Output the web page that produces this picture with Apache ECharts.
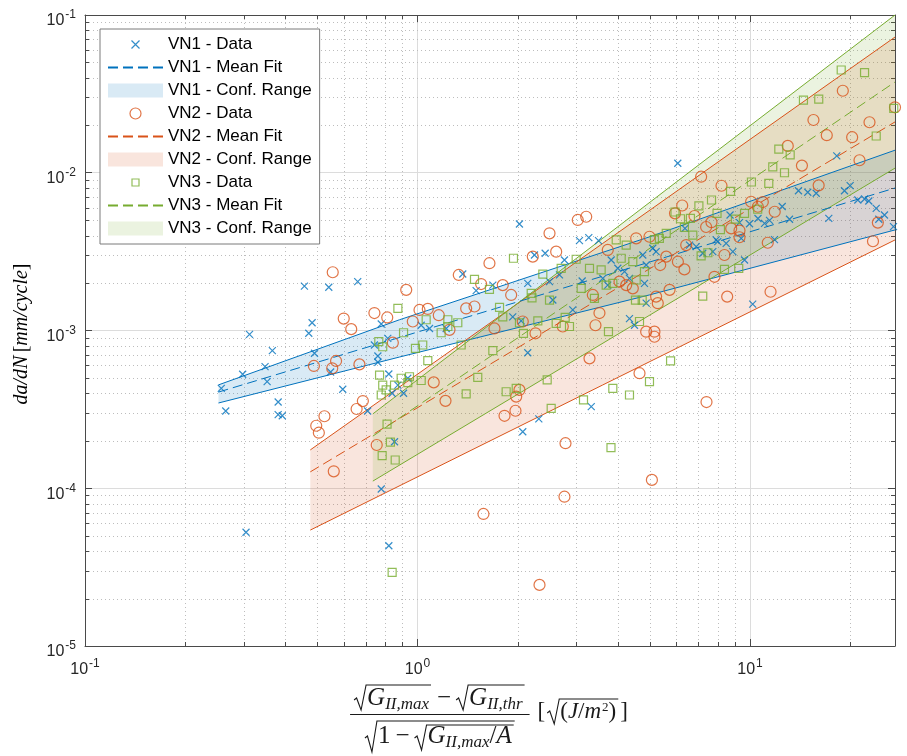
<!DOCTYPE html>
<html><head><meta charset="utf-8">
<script src="https://cdn.jsdelivr.net/npm/echarts@6/dist/echarts.min.js"></script>
<style>html,body{margin:0;padding:0;background:#fff}#c{width:907px;height:756px}</style>
</head><body><div id="c"></div>
<script>
// ---------------- DATA ----------------
const vn1X = [0.257,0.265,0.298,0.3125,0.305,0.348,0.353,0.366,0.381,0.381,0.392,0.457,0.541,0.661,0.482,0.471,0.490,0.548,0.596,0.708,
  0.778,0.814,0.742,0.760,0.760,0.820,0.839,0.908,0.873,0.935,1.087,1.026,1.220,0.778,0.820,0.853,2.073,2.317,3.331,2.026,
  3.070,3.275,3.503,2.248,2.421,2.767,1.368,1.501,1.685,2.146,2.495,2.673,3.128,3.824,4.004,4.194,4.341,4.760,4.873,3.608,
  3.735,2.553,2.931,1.934,2.050,4.341,4.494,2.146,4.816,4.873,6.066,18.24,13.99,14.92,15.82,19.24,20.01,21.10,22.11,22.77,
  23.97,25.38,24.40,27.02,12.50,13.15,17.26,8.71,9.97,10.57,11.06,11.45,11.85,6.375,6.89,7.91,8.48,9.41,8.00,7.73,
  8.88,9.63,6.58,7.21,5.10,5.22,10.19,9.30];
const vn1Y = [4.30e-4,3.09e-4,5.28e-4,9.46e-4,5.26e-5,5.90e-4,4.74e-4,7.45e-4,3.52e-4,2.93e-4,2.88e-4,1.91e-3,1.88e-3,2.04e-3,1.12e-3,9.60e-4,7.17e-4,5.46e-4,4.24e-4,3.09e-4,
  1.10e-3,8.92e-4,8.09e-4,6.89e-4,6.29e-4,5.30e-4,4.00e-4,4.00e-4,4.51e-4,4.98e-4,1.03e-3,1.08e-3,1.03e-3,9.89e-5,4.32e-5,1.97e-4,2.28e-4,2.75e-4,3.29e-4,4.73e-3,
  3.71e-3,3.88e-3,3.71e-3,3.01e-3,3.09e-3,2.80e-3,2.28e-3,1.79e-3,1.94e-3,1.99e-3,2.04e-3,2.25e-3,2.06e-3,2.80e-3,2.48e-3,2.36e-3,2.14e-3,3.01e-3,2.60e-3,2.14e-3,
  1.94e-3,1.56e-3,1.35e-3,1.22e-3,1.15e-3,1.19e-3,1.08e-3,7.23e-4,1.99e-3,1.49e-3,1.148e-2,1.28e-2,7.69e-3,7.52e-3,7.41e-3,7.69e-3,8.28e-3,6.72e-3,6.82e-3,6.62e-3,
  5.95e-3,5.40e-3,5.07e-3,4.55e-3,6.11e-3,5.07e-3,5.14e-3,5.40e-3,4.75e-3,5.13e-3,4.78e-3,4.99e-3,3.77e-3,4.44e-3,3.40e-3,3.75e-3,3.57e-3,3.84e-3,3.66e-3,3.16e-3,
  3.16e-3,2.80e-3,3.48e-3,3.09e-3,3.32e-3,3.16e-3,1.47e-3,4.83e-3];

const vn2X = [0.556,0.925,0.600,0.632,0.742,0.811,0.843,1.014,1.074,0.968,1.159,0.488,0.569,0.554,0.669,1.119,1.214,0.685,0.656,0.525,
  0.496,0.505,0.560,0.754,1.827,1.971,2.787,2.767,1.579,2.328,3.034,3.217,2.495,1.646,1.331,2.222,2.613,1.554,1.805,1.913,
  1.401,1.484,1.704,1.248,2.073,2.264,2.735,3.368,3.526,3.430,3.735,4.547,4.051,4.243,4.442,4.653,3.291,2.026,1.981,4.873,
  7.13,8.21,6.254,5.95,6.81,7.38,7.66,8.78,9.30,9.30,10.08,10.93,10.56,11.87,12.99,14.33,16.09,17.02,15.52,19.02,
  20.29,22.88,21.35,27.3,24.24,23.44,4.986,6.43,11.31,7.82,8.54,11.53,8.38,5.37,5.60,6.07,6.35,5.73,5.22,5.28,
  5.16,5.16,7.40,5.07];
const vn2Y = [2.34e-3,1.81e-3,1.19e-3,1.02e-3,1.29e-3,1.21e-3,8.37e-4,1.35e-3,1.37e-3,1.14e-3,1.25e-3,5.96e-4,6.41e-4,5.76e-4,6.10e-4,4.69e-4,3.58e-4,3.57e-4,3.18e-4,2.86e-4,
  2.49e-4,2.25e-4,1.28e-4,1.88e-4,2.88e-4,3.10e-4,1.93e-4,8.84e-5,6.87e-5,2.44e-5,5.02e-3,5.26e-3,4.13e-3,2.67e-3,2.25e-3,2.94e-3,3.16e-3,1.97e-3,1.94e-3,1.68e-3,
  1.38e-3,1.42e-3,1.03e-3,1.01e-3,1.14e-3,9.60e-4,1.06e-3,1.68e-3,1.29e-3,1.08e-3,3.24e-3,3.84e-3,2.04e-3,1.94e-3,1.85e-3,5.36e-4,6.66e-4,4.20e-4,3.81e-4,9.83e-4,
  9.44e-3,8.27e-3,6.20e-3,5.53e-3,5.32e-3,4.53e-3,4.86e-3,4.44e-3,4.30e-3,3.90e-3,6.55e-3,6.52e-3,6.09e-3,5.66e-3,1.48e-2,1.11e-2,8.32e-3,1.73e-2,2.16e-2,3.31e-2,
  1.68e-2,2.09e-2,1.20e-2,2.60e-2,4.83e-3,3.68e-3,3.93e-3,3.48e-3,3.60e-3,2.19e-3,1.64e-3,1.76e-3,3.01e-3,2.60e-3,2.94e-3,2.73e-3,2.44e-3,1.81e-3,1.64e-3,1.49e-3,
  9.83e-4,9.13e-4,3.52e-4,1.13e-4];

const vn3X = [0.873,0.908,0.765,0.786,0.986,1.037,1.074,1.062,1.178,1.234,1.234,0.769,0.786,0.805,0.778,0.853,0.893,0.935,0.946,1.026,
  0.810,0.829,0.783,0.857,0.839,2.524,3.157,1.944,1.484,1.646,1.765,2.382,2.705,3.001,3.291,3.568,2.198,2.21,2.495,3.107,
  3.406,1.805,2.026,2.301,2.613,2.781,2.865,2.083,1.685,1.353,1.322,1.518,1.401,1.848,1.981,2.455,3.868,4.341,3.753,3.960,
  4.243,4.099,4.442,3.694,3.868,4.547,4.816,4.740,4.525,4.653,4.986,18.81,22.11,14.48,16.10,27.07,23.97,12.21,13.21,11.71,
  12.70,10.10,11.39,8.74,7.66,7.02,7.96,5.95,6.18,6.62,6.35,6.73,8.15,9.04,9.63,10.55,5.60,5.34,5.16,7.13,
  7.47,8.38,9.25,7.21,5.77,3.819];
const vn3Y = [1.38e-3,9.68e-4,8.49e-4,7.89e-4,7.71e-4,8.09e-4,6.45e-4,1.17e-3,9.68e-4,1.06e-3,1.17e-3,5.22e-4,4.51e-4,4.20e-4,3.90e-4,4.51e-4,4.98e-4,4.67e-4,5.09e-4,4.82e-4,
  2.55e-4,1.96e-4,1.61e-4,1.51e-4,2.93e-5,3.21e-4,3.63e-4,2.87e-3,2.11e-3,1.82e-3,1.40e-3,2.28e-3,2.48e-3,2.83e-3,2.48e-3,2.42e-3,1.72e-3,1.61e-3,1.56e-3,1.85e-3,
  1.60e-3,1.22e-3,1.12e-3,1.15e-3,1.11e-3,1.21e-3,1.06e-3,9.60e-4,7.45e-4,8.09e-4,1.12e-3,5.05e-4,3.96e-4,4.09e-4,4.30e-4,4.86e-4,4.30e-4,3.90e-4,9.83e-4,3.75e-3,
  3.48e-3,2.87e-3,2.73e-3,1.94e-3,1.99e-3,2.09e-3,2.36e-3,1.56e-3,1.56e-3,1.14e-3,4.74e-4,4.48e-2,4.31e-2,2.89e-2,2.93e-2,2.56e-2,1.71e-2,1.41e-2,1.30e-2,1.09e-2,
  1.00e-2,8.74e-3,8.57e-3,7.63e-3,6.72e-3,6.17e-3,5.53e-3,5.64e-3,5.11e-3,5.14e-3,4.50e-3,4.02e-3,4.36e-3,5.08e-3,5.53e-3,5.87e-3,4.13e-3,3.84e-3,3.77e-3,2.97e-3,
  3.11e-3,2.44e-3,2.48e-3,1.65e-3,6.41e-4,1.81e-4];

// fits and confidence ranges
const vn1BandX = [0.252, 0.883, 4.98, 27.3];
const vn1Lo    = [3.47e-4, 6.79e-4, 1.68e-3, 4.34e-3];
const vn1Hi    = [4.52e-4, 1.17e-3, 3.92e-3, 1.39e-2];
const vn1FitX  = [0.252, 27.3];
const vn1FitY  = [4.07e-4, 8.0e-3];

const vn2BandX = [0.476, 27.3];
const vn2Lo    = [5.43e-5, 3.75e-3];
const vn2Hi    = [1.75e-4, 7.25e-2];
const vn2FitX  = [0.476, 27.3];
const vn2FitY  = [1.27e-4, 2.10e-2];

const vn3BandX = [0.734, 27.3];
const vn3Lo    = [1.11e-4, 1.07e-2];
const vn3Hi    = [2.96e-4, 0.1];
const vn3FitX  = [0.734, 27.3];
const vn3FitY  = [2.14e-4, 3.76e-2];

// axis ranges and minor grid positions
const xRange = [0.1, 27.3];
const yRange = [1e-5, 0.1];
const xMinor = [0.2,0.3,0.4,0.5,0.6,0.7,0.8,0.9,2,3,4,5,6,7,8,9,20];
const yMinor = [2e-5,3e-5,4e-5,5e-5,6e-5,7e-5,8e-5,9e-5,2e-4,3e-4,4e-4,5e-4,6e-4,7e-4,8e-4,9e-4,
  2e-3,3e-3,4e-3,5e-3,6e-3,7e-3,8e-3,9e-3,2e-2,3e-2,4e-2,5e-2,6e-2,7e-2,8e-2,9e-2];

// ---------------- STYLE ----------------
const C1='#0072BD', C2='#D95319', C3='#77AC30';
const F1='rgba(0,114,189,0.15)', F2='rgba(217,83,25,0.15)', F3='rgba(119,172,48,0.15)';
const AX='#4a4a4a';
const NONE='rgba(0,0,0,0)';
const crossSym='path://M0,0L10,10M10,0L0,10';
const crossLeg='path://M0,0L0.01,0M3,3L11,11M11,3L3,11M14,14L13.99,14';
const sqLeg='path://M0,0L0.01,0M3.5,3.5L10.5,3.5L10.5,10.5L3.5,10.5ZM14,14L13.99,14';
const circLeg='path://M0,0L0.01,0M1.5,7A5.5,5.5,0,1,1,12.5,7A5.5,5.5,0,1,1,1.5,7ZM14,14L13.99,14';

const pts=(xs,ys)=>xs.map((x,i)=>[x,ys[i]]);

function band(name, xs, lo, hi, fill){
  return {type:'custom', name, z:2, silent:true, clip:true,
    itemStyle:{color:fill},
    data: xs.map((x,i)=>[x, lo[i], hi[i]]),
    encode:{x:0, y:[1,2]},
    renderItem:(params, api)=>{
      if(params.dataIndex!==0) return null;
      const p=[];
      for(let i=0;i<xs.length;i++) p.push(api.coord([xs[i], lo[i]]));
      for(let i=xs.length-1;i>=0;i--) p.push(api.coord([xs[i], hi[i]]));
      return {type:'polygon', shape:{points:p}, style:{fill:fill}};
    }};
}
function edge(name, xs, ys, color){
  return {type:'line', name, data:pts(xs,ys), symbol:'none', silent:true, z:3,
    itemStyle:{color}, lineStyle:{color, width:1}};
}
function fit(name, xs, ys, color){
  return {type:'line', name, data:pts(xs,ys), symbol:'none', silent:true, z:3,
    itemStyle:{color}, lineStyle:{color, width:1, type:[10,5]}};
}
function scat(name, xs, ys, sym, size, color){
  return {type:'scatter', name, data:pts(xs,ys), symbol:sym, symbolSize:size, z:4, clip:false, silent:true,
    itemStyle:{color:NONE, borderColor:color, borderWidth:1.2}};
}
function minorGrid(vals, isX){
  return {type:'custom', silent:true, z:1, clip:false,
    data: vals.map(v=> isX ? [v, 1e-3] : [1, v]),
    encode:{x:0, y:1},
    renderItem:(params, api)=>{
      const cs=params.coordSys;
      const pt=api.coord([api.value(0), api.value(1)]);
      const kids=[];
      if(isX){
        const x=Math.round(pt[0])+0.5, y0=cs.y, y1=cs.y+cs.height;
        kids.push({type:'line', shape:{x1:x,y1:y0,x2:x,y2:y1}, style:{stroke:'#bdbdbd', lineWidth:1, lineDash:[1,3]}});
        kids.push({type:'line', shape:{x1:x,y1:y1,x2:x,y2:y1-4}, style:{stroke:AX, lineWidth:1}});
        kids.push({type:'line', shape:{x1:x,y1:y0,x2:x,y2:y0+4}, style:{stroke:AX, lineWidth:1}});
      } else {
        const y=Math.round(pt[1])+0.5, x0=cs.x, x1=cs.x+cs.width;
        kids.push({type:'line', shape:{x1:x0,y1:y,x2:x1,y2:y}, style:{stroke:'#bdbdbd', lineWidth:1, lineDash:[1,3]}});
        kids.push({type:'line', shape:{x1:x0,y1:y,x2:x0+4,y2:y}, style:{stroke:AX, lineWidth:1}});
        kids.push({type:'line', shape:{x1:x1,y1:y,x2:x1-4,y2:y}, style:{stroke:AX, lineWidth:1}});
      }
      return {type:'group', children:kids};
    }};
}

function decade(v){
  const e=Math.log10(v), r=Math.round(e);
  if(Math.abs(e-r)>1e-6) return '';
  return '{b|10}{s|'+r+'}';
}
const labRich={
  b:{fontSize:16, fontFamily:'Liberation Sans', color:'#262626', verticalAlign:'bottom', lineHeight:18},
  s:{fontSize:12, fontFamily:'Liberation Sans', color:'#262626', verticalAlign:'bottom', lineHeight:13, padding:[0,0,8,1]}
};

function logAxis(range, pos, main){
  const isX = (pos==='bottom' || pos==='top');
  return {type:'log', logBase:10, min:range[0], max:range[1], position:pos,
    axisLine:{show:true, onZero:false, lineStyle:{color:AX, width:1}},
    axisTick:{show:true, inside:true, length:7, lineStyle:{color:AX, width:1}},
    minorTick:{show:false},
    axisLabel: main ? {show:true, formatter:decade, rich:labRich, margin:(isX?14:9), padding:(isX?0:[10,0,0,0]), color:'#262626'} : {show:false},
    splitLine: main ? {show:true, lineStyle:{color:'#dcdcdc', width:1}} : {show:false}
  };
}

// ---------------- X LABEL (formula) ----------------
const cv=document.createElement('canvas').getContext('2d');
const SER='"Liberation Serif"';
const fontOf=(s,it)=>(it?'italic ':'')+s+'px '+SER;
const tw=(t,f)=>{cv.font=f; return cv.measureText(t).width;};
const INK='#1a1a1a';
const g=[];
function txt(t, x, base, s, it){
  const f=fontOf(s,it);
  g.push({type:'text', x:x, y:base-0.3*s, silent:true,
    style:{text:t, font:f, fill:INK, align:'left', verticalAlign:'middle', textAlign:'left', textVerticalAlign:'middle'}});
  return x+tw(t,f);
}
function rad(x, base, top, depth, contentW){
  g.push({type:'polyline', silent:true, shape:{points:[[x,base-6],[x+2.5,base-8],[x+7,base+depth],[x+12,top],[x+13+contentW+2,top]]},
    style:{stroke:INK, lineWidth:1.1, fill:null}});
  return x+13;
}
(function buildXLabel(){
  const M=25, S=17, U=23;
  const wG=tw('G',fontOf(M,true)), wMax=tw('II,max',fontOf(S,true)), wThr=tw('II,thr',fontOf(S,true));
  const wMinus=tw('\u2212',fontOf(M,false))+10;
  const w1=tw('1',fontOf(M,false)), wSl=tw('/',fontOf(M,false)), wA=tw('A',fontOf(M,true));
  const numA=wG+wMax, numB=wG+wThr;
  const numW=13+numA+3+wMinus+13+numB+3;
  const inner=wG+wMax+wSl+wA;
  const denW=13+w1+wMinus+13+inner+3;
  const fracW=Math.max(numW,denW)+8;
  const cw=tw('(',fontOf(U,false))+tw('J',fontOf(U,true))+tw('/',fontOf(U,false))+tw('m',fontOf(U,true))+tw('2',fontOf(13,false))+1+tw(')',fontOf(U,false));
  const wU = tw('[',fontOf(U,false))+2+13+cw+6+tw(']',fontOf(U,false));
  const total=fracW+8+wU;
  const x0=490-total/2;
  // fraction bar
  g.push({type:'line', silent:true, shape:{x1:x0,y1:714.5,x2:x0+fracW,y2:714.5}, style:{stroke:INK, lineWidth:1}});
  // numerator
  let x=x0+(fracW-numW)/2; const nb=706;
  x=rad(x, nb, 685, 4, numA);
  x=txt('G',x,nb,M,true); x=txt('II,max',x,nb+4,S,true);
  x+=3+5; x=txt('\u2212',x,nb,M,false); x+=5;
  x=rad(x, nb, 685, 4, numB);
  x=txt('G',x,nb,M,true); x=txt('II,thr',x,nb+4,S,true);
  // denominator
  x=x0+(fracW-denW)/2; const db=744;
  const outerW=w1+wMinus+13+inner+1;
  x=rad(x, db, 721, 8, outerW);
  x=txt('1',x,db,M,false);
  x+=5; x=txt('\u2212',x,db,M,false); x+=5;
  x=rad(x, db, 725, 6, inner);
  x=txt('G',x,db,M,true); x=txt('II,max',x,db+4,S,true);
  x=txt('/',x,db,M,false); x=txt('A',x,db,M,true);
  // units
  x=x0+fracW+8; const ub=719;
  x=txt('[',x,ub,U,false); x+=2;
  x=rad(x, ub, 699, 5, cw);
  x=txt('(',x,ub,U,false); x=txt('J',x,ub,U,true); x=txt('/',x,ub,U,false); x=txt('m',x,ub,U,true);
  x+=1; x=txt('2',x,ub-8,13,false); x=txt(')',x,ub,U,false); x+=4;
  txt(']',x,ub,U,false);
})();
// y label
g.push({type:'text', x:22, y:334, rotation:Math.PI/2, silent:true,
  style:{text:'{i|da/dN} {r|[}{i|mm/cycle}{r|]}', align:'center', verticalAlign:'middle', textAlign:'center', textVerticalAlign:'middle',
    rich:{i:{fontSize:20, fontStyle:'italic', fontFamily:'Liberation Serif', color:INK}, r:{fontSize:20, fontFamily:'Liberation Serif', color:INK}}}});

// ---------------- CHART ----------------
const chart=echarts.init(document.getElementById('c'), null, {renderer:'canvas'});
const hideSym={color:NONE, borderColor:NONE, borderWidth:0};
chart.setOption({
  backgroundColor:'#fff',
  animation:false,
  grid:{left:85, top:15, width:810, height:631, containLabel:false},
  xAxis:[logAxis(xRange,'bottom',true), logAxis(xRange,'top',false)],
  yAxis:[logAxis(yRange,'left',true), logAxis(yRange,'right',false)],
  legend:{
    orient:'vertical', left:100, top:29, padding:[7,8,7,7],
    backgroundColor:'#fff', borderColor:'#7a7a7a', borderWidth:1, borderRadius:0,
    itemWidth:55, itemHeight:14, itemGap:6, itemTextGap:5,
    textStyle:{fontSize:17, fontFamily:'Liberation Sans', color:'#000', lineHeight:17},
    selectedMode:false,
    data:[
      {name:'VN1 - Data', icon:crossLeg, itemStyle:{color:NONE, borderColor:C1, borderWidth:1.2}},
      {name:'VN1 - Mean Fit', itemStyle:hideSym},
      {name:'VN1 - Conf. Range', icon:'rect', itemStyle:{color:F1, borderWidth:0}},
      {name:'VN2 - Data', icon:circLeg, itemStyle:{color:NONE, borderColor:C2, borderWidth:1.2}},
      {name:'VN2 - Mean Fit', itemStyle:hideSym},
      {name:'VN2 - Conf. Range', icon:'rect', itemStyle:{color:F2, borderWidth:0}},
      {name:'VN3 - Data', icon:sqLeg, itemStyle:{color:NONE, borderColor:C3, borderWidth:1.2}},
      {name:'VN3 - Mean Fit', itemStyle:hideSym},
      {name:'VN3 - Conf. Range', icon:'rect', itemStyle:{color:F3, borderWidth:0}}
    ]
  },
  graphic:{elements:g},
  series:[
    minorGrid(xMinor,true),
    minorGrid(yMinor,false),
    band('VN1 - Conf. Range', vn1BandX, vn1Lo, vn1Hi, F1),
    band('VN2 - Conf. Range', vn2BandX, vn2Lo, vn2Hi, F2),
    band('VN3 - Conf. Range', vn3BandX, vn3Lo, vn3Hi, F3),
    edge('VN1 lo', vn1BandX, vn1Lo, C1), edge('VN1 hi', vn1BandX, vn1Hi, C1),
    edge('VN2 lo', vn2BandX, vn2Lo, C2), edge('VN2 hi', vn2BandX, vn2Hi, C2),
    edge('VN3 lo', vn3BandX, vn3Lo, C3), edge('VN3 hi', vn3BandX, vn3Hi, C3),
    fit('VN1 - Mean Fit', vn1FitX, vn1FitY, C1),
    fit('VN2 - Mean Fit', vn2FitX, vn2FitY, C2),
    fit('VN3 - Mean Fit', vn3FitX, vn3FitY, C3),
    scat('VN1 - Data', vn1X, vn1Y, crossSym, 7, C1),
    scat('VN2 - Data', vn2X, vn2Y, 'circle', 11, C2),
    scat('VN3 - Data', vn3X, vn3Y, 'rect', 8, C3)
  ]
});
</script>
</body></html>
